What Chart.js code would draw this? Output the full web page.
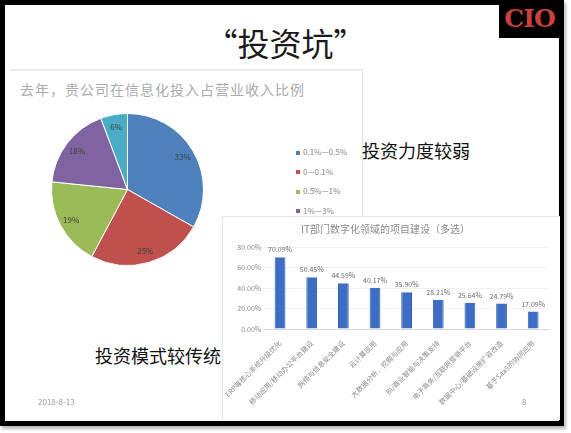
<!DOCTYPE html>
<html><head><meta charset="utf-8">
<script src="https://cdn.jsdelivr.net/npm/chart.js@4.4.1/dist/chart.umd.min.js"></script>
<style>
html,body{margin:0;padding:0;background:#fff;width:571px;height:433px;overflow:hidden;font-family:"Noto Sans CJK SC","Noto Sans",sans-serif;}
.abs{position:absolute;}
#frame{left:0;top:0;width:554px;height:416px;border:5px solid #000;background:#fff;box-shadow:2px 3px 3px #bbb;}
#logo{left:499px;top:0;width:61px;height:38px;background:#000;color:#c8413e;font:bold 25px "DejaVu Serif",serif;line-height:38px;text-align:center;letter-spacing:-1px;}
#title{left:0;width:571px;top:20px;text-align:center;font-size:32px;color:#1a1a1a;line-height:44px;}
#piePanel{left:10px;top:69px;width:352px;height:208px;background:#fff;border-top:2px solid #ececec;border-right:1px solid #e2e2e2;}
#pieTitle{left:20px;top:79px;font-size:14px;color:#ababab;letter-spacing:1px;line-height:20px;white-space:nowrap;}
#barPanel{left:222px;top:216px;width:337px;height:203px;background:#fff;border-left:1px solid #e6e6e6;border-top:1px solid #e6e6e6;}
#pieLegend{left:296px;top:142px;font-size:8px;color:#8a8a8a;line-height:19.5px;}
#pieLegend span.m{display:inline-block;width:4px;height:4px;margin-right:3px;vertical-align:middle;}
.big{font-size:18px;color:#111;white-space:nowrap;line-height:24px;}
#foot1{left:38px;top:396px;font-size:8px;color:#999;}
#foot2{left:522px;top:396px;font-size:8px;color:#999;}
</style></head>
<body>
<div id="frame" class="abs"></div>
<div id="logo" class="abs">CIO</div>
<div id="title" class="abs">“投资坑”</div>
<div id="piePanel" class="abs"></div>
<div id="pieTitle" class="abs">去年，贵公司在信息化投入占营业收入比例</div>
<canvas id="pie" class="abs" style="left:39px;top:101px;width:177px;height:177px;" width="177" height="177"></canvas>
<div id="pieLegend" class="abs"></div>
<div class="abs big" style="left:362px;top:138px;">投资力度较弱</div>
<div id="barPanel" class="abs"></div>
<canvas id="bar" class="abs" style="left:222px;top:214px;width:337px;height:205px;" width="337" height="205"></canvas>
<div class="abs big" style="left:95px;top:343px;">投资模式较传统</div>
<div id="foot1" class="abs">2018-8-13</div>
<div id="foot2" class="abs">8</div>
<script>
// ---- data ----
const pieLabels = ['0.1%—0.5%', '0—0.1%', '0.5%—1%', '1%—3%', '3%以上'];
const pieValues = [33.2, 24.6, 18.8, 17.7, 5.7];
const pieColors = ['#4F81BD', '#C0504D', '#9BBB59', '#8064A2', '#4BACC6'];
const pieLegendCount = 4;

const barTitle = 'IT部门数字化领域的项目建设（多选）';
const barCategories = ['ERP等核心系统升级优化', '移动应用/移动办公平台建设', '网络与信息安全建设', '云计算应用', '大数据分析、挖掘与应用', 'BI/商业智能与决策支持', '电子商务/互联网营销平台', '数据中心/基础设施扩容改造', '基于SaaS的协同应用'];
const barValues = [70.09, 50.45, 44.59, 40.17, 35.90, 28.21, 25.64, 24.79, 17.09];
const yMax = 80, yStep = 10;

const CJK = '"Noto Sans CJK SC","Noto Sans",sans-serif';

// legend (html)
const lg = document.getElementById('pieLegend');
for (let i = 0; i < pieLegendCount; i++) {
  const d = document.createElement('div');
  d.innerHTML = '<span class="m" style="background:' + pieColors[i] + '"></span>' + pieLabels[i];
  lg.appendChild(d);
}

const pieLabelPlugin = {
  id: 'pieLabels',
  afterDatasetsDraw(chart) {
    const ctx = chart.ctx;
    const meta = chart.getDatasetMeta(0);
    ctx.save();
    ctx.font = '8px ' + CJK;
    ctx.fillStyle = '#404040';
    ctx.textAlign = 'center';
    ctx.textBaseline = 'middle';
    meta.data.forEach((arc, i) => {
      const p = arc.getProps(['x', 'y', 'startAngle', 'endAngle', 'outerRadius'], true);
      const mid = (p.startAngle + p.endAngle) / 2;
      const r = p.outerRadius * 0.84;
      ctx.fillText(Math.round(pieValues[i]) + '%', p.x + Math.cos(mid) * r, p.y + Math.sin(mid) * r);
    });
    ctx.restore();
  }
};

new Chart(document.getElementById('pie'), {
  type: 'pie',
  data: { labels: pieLabels, datasets: [{ data: pieValues, backgroundColor: pieColors, borderColor: '#ffffff', borderWidth: 1 }] },
  options: {
    responsive: false, animation: false,
    layout: { padding: 12 },
    plugins: { legend: { display: false }, tooltip: { enabled: false } }
  },
  plugins: [pieLabelPlugin]
});

const barLabelPlugin = {
  id: 'barLabels',
  afterDatasetsDraw(chart) {
    const ctx = chart.ctx;
    const meta = chart.getDatasetMeta(0);
    ctx.save();
    ctx.font = '7px ' + CJK;
    ctx.fillStyle = '#6a6a6a';
    ctx.textAlign = 'center';
    ctx.textBaseline = 'bottom';
    meta.data.forEach((b, i) => {
      ctx.fillText(barValues[i].toFixed(2) + '%', b.x, b.y - 4);
    });
    ctx.restore();
  }
};

new Chart(document.getElementById('bar'), {
  type: 'bar',
  data: { labels: barCategories, datasets: [{ data: barValues, backgroundColor: '#3E6EC4', borderColor: '#2F5DAE', borderWidth: { left: 1, right: 1 }, barPercentage: 0.34, categoryPercentage: 1 }] },
  options: {
    responsive: false, animation: false,
    layout: { padding: { left: 0, right: 10, top: 0, bottom: 0 } },
    plugins: {
      legend: { display: false }, tooltip: { enabled: false },
      title: { display: true, text: barTitle, color: '#8a8a8a', font: { size: 10, family: CJK, weight: 'normal' }, padding: { top: 9, bottom: 12 } }
    },
    scales: {
      x: {
        grid: { display: false },
        border: { display: true, color: '#d9d9d9' },
        ticks: { minRotation: 45, maxRotation: 45, autoSkip: false, color: '#8a8a8a', font: { size: 7, family: CJK }, padding: 2 },
        afterFit(s) { s.height = 90; }
      },
      y: {
        min: 0, max: yMax,
        grid: { color: '#f0f0f0', drawTicks: false },
        border: { display: false },
        ticks: { stepSize: yStep, color: '#8a8a8a', font: { size: 7, family: CJK }, padding: 3, callback: v => v.toFixed(2) + '%' },
        afterFit(s) { s.width = 42; }
      }
    }
  },
  plugins: [barLabelPlugin]
});
</script>
</body></html>
